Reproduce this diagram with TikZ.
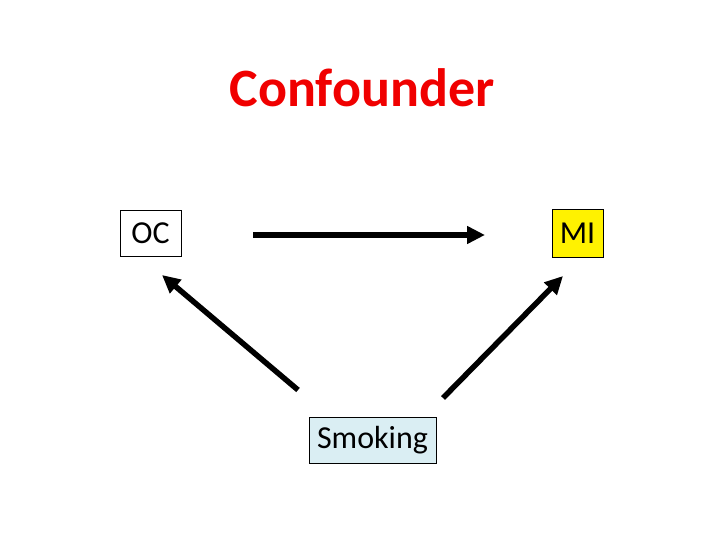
\documentclass[tikz,border=0pt]{standalone}
\usepackage{fontspec}
\setmainfont{Carlito}
\usetikzlibrary{arrows.meta}
\definecolor{titlered}{RGB}{240,0,0}
\definecolor{smokeblue}{RGB}{218,238,243}
\begin{document}
\begin{tikzpicture}[x=1pt, y=1pt,
	box/.style={draw=black, line width=0.8pt, inner sep=0pt, font=\fontsize{32}{38}\selectfont},
	bigarrow/.style={line width=5.5pt, -{Triangle[length=18pt, width=17pt]}}]
	\useasboundingbox (0,0) rectangle (720,540);
	\node[font=\fontsize{54}{64}\selectfont\bfseries, text=titlered, anchor=base] (title) at (362,433) {Confounder};
	\node[box, minimum width=61pt, minimum height=46pt] (oc) at (150.5,307) {OC};
	\node[box, fill=yellow, minimum width=51pt, minimum height=48pt] (mi) at (577.5,307) {MI};
	\node[box, fill=smokeblue, minimum width=127pt, minimum height=46pt] (smoking) at (372.5,100) {Smoking};
	% free ends of the arrows
	\coordinate (ocmi-s) at (253,305);
	\coordinate (ocmi-e) at (485,305);
	\coordinate (smoc-s) at (298,150);
	\coordinate (smoc-e) at (162,265);
	\coordinate (smmi-s) at (443,142);
	\coordinate (smmi-e) at (563,264);
	\draw[bigarrow] (ocmi-s) -- (ocmi-e);
	\draw[bigarrow] (smoc-s) -- (smoc-e);
	\draw[bigarrow] (smmi-s) -- (smmi-e);
\end{tikzpicture}
\end{document}
